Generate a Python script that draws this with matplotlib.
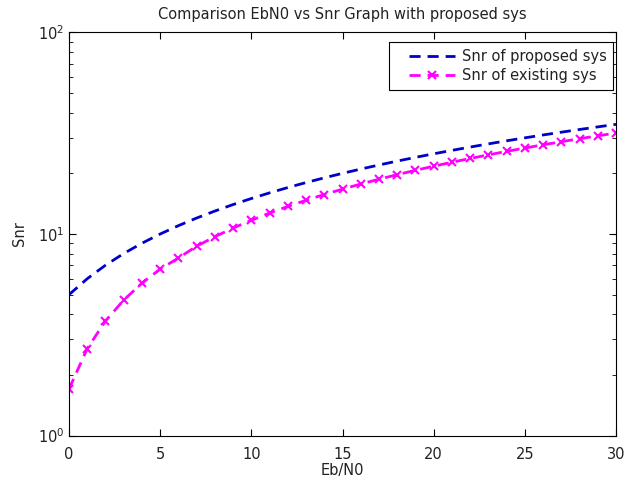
import matplotlib.pyplot as plt
from matplotlib.legend_handler import HandlerLine2D
from matplotlib.ticker import LogLocator, NullFormatter

# Eb/N0 sample points and the two Snr curves
ebn0 = [0, 1, 2, 3, 4, 5, 6, 7, 8, 9, 10, 11, 12, 13, 14, 15,
        16, 17, 18, 19, 20, 21, 22, 23, 24, 25, 26, 27, 28, 29, 30]
snr_proposed = [5.0, 6.0, 7.0, 8.0, 9.0, 10.0, 11.0, 12.0, 13.0, 14.0, 15.0,
                16.0, 17.0, 18.0, 19.0, 20.0, 21.0, 22.0, 23.0, 24.0, 25.0,
                26.0, 27.0, 28.0, 29.0, 30.0, 31.0, 32.0, 33.0, 34.0, 35.0]
snr_existing = [1.7, 2.7, 3.7, 4.7, 5.7, 6.7, 7.6, 8.7, 9.7, 10.7, 11.7,
                12.7, 13.7, 14.7, 15.7, 16.7, 17.7, 18.7, 19.7, 20.7, 21.7,
                22.7, 23.7, 24.7, 25.7, 26.7, 27.7, 28.7, 29.7, 30.7, 31.7]

plt.rcParams['font.family'] = ['DejaVu Sans']
plt.rcParams['font.size'] = 10.5
plt.rcParams['text.color'] = '#222222'
plt.rcParams['xtick.labelcolor'] = '#222222'
plt.rcParams['ytick.labelcolor'] = '#222222'
plt.rcParams['axes.labelcolor'] = '#222222'

fig = plt.figure(figsize=(6.35, 4.79), dpi=100)
ax = fig.add_axes([0.1087, 0.0908, 0.8614, 0.8414])

ax.plot(ebn0, snr_proposed, color='#0000c8', linestyle='--', linewidth=2,
        dashes=(4, 2.5), label='Snr of proposed sys')
ax.plot(ebn0, snr_existing, color='#ff00ff', linestyle='--', linewidth=2,
        dashes=(4, 2.5), marker='x', markersize=5.5, markeredgewidth=1.5,
        label='Snr of existing sys')

ax.set_yscale('log')
ax.set_xlim(0, 30)
ax.set_ylim(1, 100)
ax.set_xticks([0, 5, 10, 15, 20, 25, 30])
ax.yaxis.set_major_locator(LogLocator(base=10))
ax.yaxis.set_minor_locator(LogLocator(base=10, subs=range(2, 10)))
ax.yaxis.set_minor_formatter(NullFormatter())
ax.tick_params(which='both', direction='in', top=True, right=True)
ax.tick_params(which='major', length=5)
ax.tick_params(which='minor', length=3)
ax.tick_params(axis='x', pad=8)

ax.set_title('Comparison EbN0 vs Snr Graph with proposed sys',
             fontsize=10.5, pad=10)
ax.set_xlabel('Eb/N0', labelpad=1)
ax.set_ylabel('Snr', labelpad=8)

# matlab-style legend: extra blank space left of the line samples
leg = ax.legend(loc='upper right', bbox_to_anchor=(0.9945, 0.976),
                borderaxespad=0, fancybox=False, framealpha=1,
                edgecolor='black', handlelength=4.1, handletextpad=0.45,
                borderpad=0.45, labelspacing=0.3,
                handler_map={ax.lines[0]: HandlerLine2D(xpad=0.92),
                             ax.lines[1]: HandlerLine2D(xpad=0.92)})
leg.get_frame().set_linewidth(0.8)

fig.savefig('out.png', dpi=100)
